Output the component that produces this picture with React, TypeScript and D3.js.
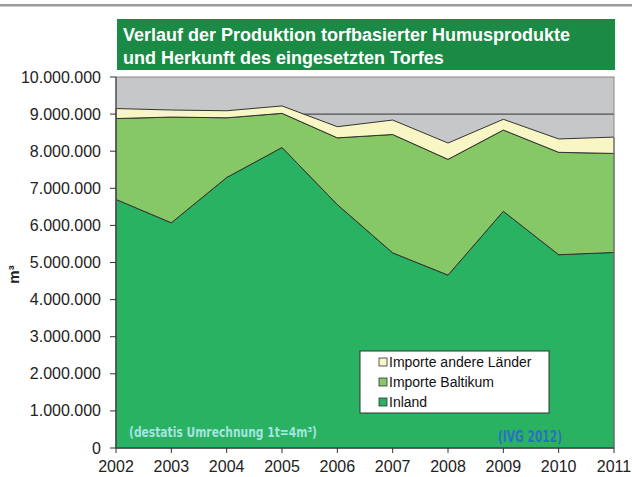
import React from "react";
import * as d3 from "d3";

const years = [2002, 2003, 2004, 2005, 2006, 2007, 2008, 2009, 2010, 2011];
// values in m³
const inland = [6700000, 6070000, 7290000, 8100000, 6560000, 5260000, 4660000, 6380000, 5210000, 5270000];
const baltikum = [2180000, 2850000, 1610000, 920000, 1800000, 3190000, 3120000, 2190000, 2760000, 2670000];
const andere = [270000, 190000, 190000, 200000, 300000, 390000, 440000, 290000, 360000, 440000];

const seriesNames = ["Inland", "Importe Baltikum", "Importe andere Länder"];
const seriesColors = ["#29b262", "#86c866", "#f8f6c4"];
const yTicks = [0, 1e6, 2e6, 3e6, 4e6, 5e6, 6e6, 7e6, 8e6, 9e6, 1e7];

const W = 632;
const H = 477;
const left = 116;
const right = 614;
const top = 77;
const bottom = 448;

const font = "'Liberation Sans', Arial, Helvetica, sans-serif";
const fmt = (v: number) => v.toString().replace(/\B(?=(\d{3})+(?!\d))/g, ".");

export default function App() {
  const x = d3.scaleLinear().domain([2002, 2011]).range([left, right]);
  const y = d3.scaleLinear().domain([0, 1e7]).range([bottom, top]);

  const rows = years.map((yr, i) => ({ year: yr, Inland: inland[i], "Importe Baltikum": baltikum[i], "Importe andere Länder": andere[i] }));
  const stacked = d3.stack<any>().keys(seriesNames)(rows);

  const area = d3.area<any>()
    .x(d => x(d.data.year))
    .y0(d => y(d[0]))
    .y1(d => y(d[1]));

  const legendItems = [...seriesNames].reverse();

  return (
    <svg width={W} height={H} style={{ position: "absolute", left: 0, top: 0, fontFamily: font }}>
      <rect x={0} y={4} width={W} height={2.5} fill="#9a9a9a" />

      {/* title box */}
      <rect x={117} y={19} width={498} height={51} fill="#1b8a45" />
      <text x={123} y={41} fill="#fff" fontWeight="bold" fontSize={18}>Verlauf der Produktion torfbasierter Humusprodukte</text>
      <text x={123} y={64} fill="#fff" fontWeight="bold" fontSize={18}>und Herkunft des eingesetzten Torfes</text>

      {/* plot */}
      <rect x={left} y={top} width={right - left} height={bottom - top} fill="#c6c7c9" />
      {yTicks.slice(1, -1).map(t => (
        <line key={t} x1={left} x2={right} y1={y(t)} y2={y(t)} stroke="#333" strokeWidth={1} />
      ))}
      {stacked.map((s, i) => (
        <path key={s.key} d={area(s) || ""} fill={seriesColors[i]} stroke="#333" strokeWidth={1} strokeLinejoin="round" />
      ))}
      <rect x={left} y={top} width={right - left} height={bottom - top} fill="none" stroke="#888" strokeWidth={1} />

      {/* y axis */}
      <line x1={left} x2={left} y1={top} y2={bottom} stroke="#333" />
      {yTicks.map(t => (
        <g key={t}>
          <line x1={left - 6} x2={left} y1={y(t)} y2={y(t)} stroke="#333" />
          <text x={101} y={y(t) + 5.5} textAnchor="end" fontSize={16} fill="#222">{fmt(t)}</text>
        </g>
      ))}
      <text transform={`translate(19,${(top + bottom) / 2 + 12}) rotate(-90)`} textAnchor="middle" fontSize={15} fontWeight="bold" fill="#222">m³</text>

      {/* x axis */}
      <line x1={left} x2={right} y1={bottom} y2={bottom} stroke="#333" />
      {years.map(yr => (
        <g key={yr}>
          <line x1={x(yr)} x2={x(yr)} y1={bottom} y2={bottom + 5} stroke="#333" />
          <text x={x(yr)} y={472} textAnchor="middle" fontSize={16} fill="#222">{yr}</text>
        </g>
      ))}

      {/* legend */}
      <rect x={360} y={351} width={189} height={62} fill="#fff" stroke="#333" strokeWidth={1} />
      {legendItems.map((name, i) => {
        const ci = seriesNames.indexOf(name);
        const cy = 362 + i * 20;
        return (
          <g key={name}>
            <rect x={379} y={cy - 4} width={8} height={8} fill={seriesColors[ci]} stroke="#333" strokeWidth={0.8} />
            <text x={389} y={cy + 5} fontSize={14} fill="#111">{name}</text>
          </g>
        );
      })}

      {/* notes */}
      <text x={129} y={437} fontSize={14} fontWeight="bold" fill="#a6e3e0" fontFamily="'DejaVu Sans Condensed', 'DejaVu Sans', sans-serif" textLength={188} lengthAdjust="spacingAndGlyphs">(destatis Umrechnung 1t=4m³)</text>
      <text x={498} y={442} fontSize={15} fontWeight="bold" fill="#2b6fc4" fontFamily="'DejaVu Sans Condensed', 'DejaVu Sans', sans-serif" textLength={64} lengthAdjust="spacingAndGlyphs">(IVG 2012)</text>
    </svg>
  );
}
